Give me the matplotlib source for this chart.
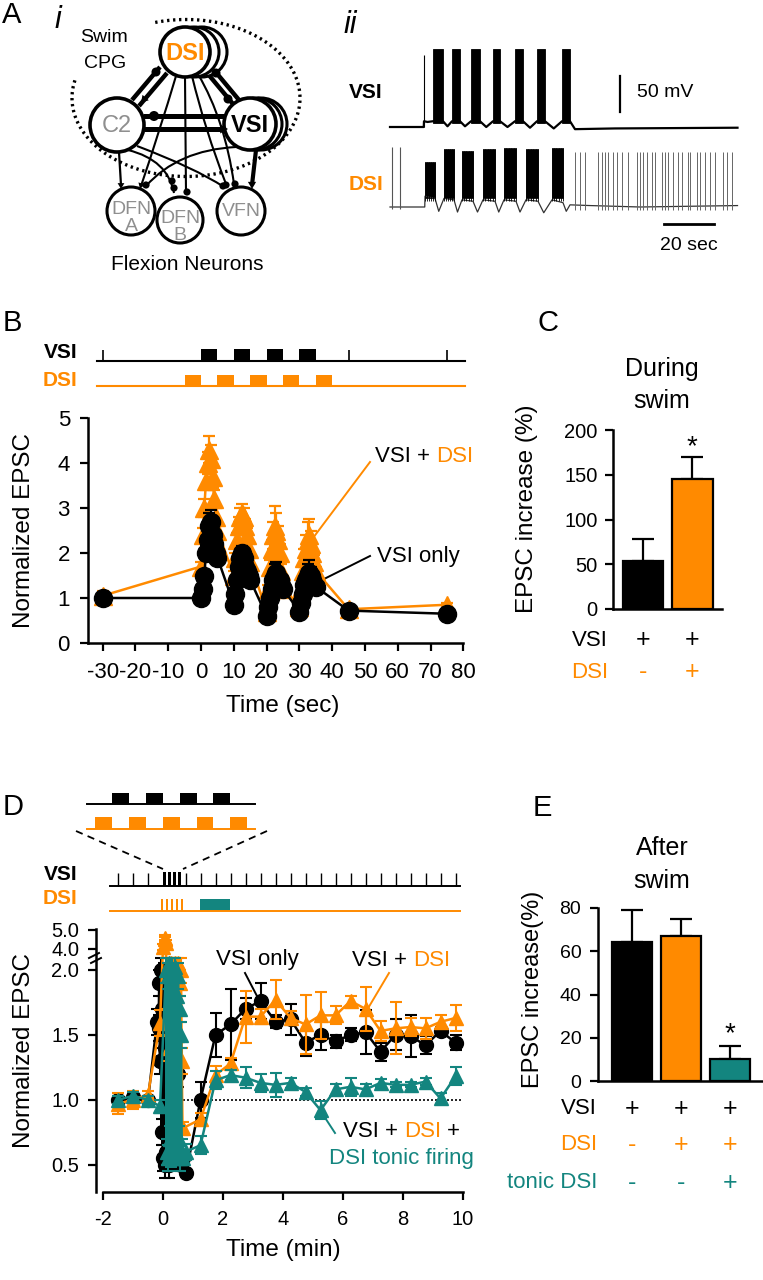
import numpy as np
import matplotlib
matplotlib.use('Agg')
import matplotlib.pyplot as plt
from matplotlib.patches import Circle, Rectangle, Polygon, PathPatch
from matplotlib.path import Path
from matplotlib.transforms import blended_transform_factory as blend

plt.rcParams['font.family'] = ['Liberation Sans', 'DejaVu Sans']
plt.rcParams['axes.linewidth'] = 1.8

ORANGE = '#FF8A00'
TEAL = '#13857F'
GREY = '#8F8F8F'

# ======================= DATA =======================
# ---- A(ii) example recordings (time in s, potential in mV relative to rest)
VSI_FIRST_SPIKE = 13.6
VSI_BURSTS = [(17.2, 21.2), (24.8, 28.0), (32.4, 36.0), (41.2, 44.0),
              (50.0, 53.2), (58.8, 62.0), (68.8, 72.0)]
VSI_SPIKE_TOP = 108
VSI_WAVE_T = [0, 13.5, 13.6, 15, 17.2, 21.2, 23, 24.8, 28, 30, 32.4, 36, 38.5, 41.2,
              44, 47, 50, 53.2, 56, 58.8, 62, 65.5, 68.8, 72, 74, 90, 139]
VSI_WAVE_V = [0, 0, 8, 7, 8, 8, 1, 8, 8, 1, 8, 8, 0, 8,
              8, 0, 8, 8, -1, 8, 8, -2, 8, 8, -3, -2, -1]
DSI_BURSTS = [(14.0, 18.0), (21.6, 25.6), (28.8, 33.2), (37.2, 42.0),
              (45.6, 50.4), (54.4, 59.2), (64.8, 69.2)]
DSI_BURST_TOPS = [62, 80, 78, 80, 82, 80, 82]
DSI_WAVE_T = [0, 13.9, 14.0, 18, 19.5, 21.6, 25.6, 27, 28.8, 33.2, 35, 37.2, 42, 43.5,
              45.6, 50.4, 52, 54.4, 59.2, 61.5, 64.8, 69.2, 70.5, 72, 80, 100, 139]
DSI_WAVE_V = [0, 0, 15, 12, -6, 12, 10, -7, 10, 8, -7, 10, 8, -7,
              10, 8, -7, 10, 8, -8, 10, 6, -6, 3, 2, 0, 2]
DSI_SPIKE_TOP = 83
DSI_PRE_SPIKES = [0.8, 4.0]
DSI_TONIC_SPIKES = [74, 76, 78, 83.3, 84.7, 86, 87.3, 89.3, 90.7, 92.7, 95.3, 98.7, 100,
                    101.3, 102.7, 104.7, 106, 108.7, 110, 111.3, 113.3, 115.3, 116.7,
                    119.3, 120, 122.7, 124, 126, 128, 130, 133.3, 134.7, 136.7]

# ---- B  (time in s)
B_STIM_VSI = [(0, 5), (10, 15), (20, 25), (30, 35)]
B_STIM_DSI = [(-5, 0), (5, 10), (15, 20), (25, 30), (35, 40)]
B_STIM_TICKS = [-30, 45, 75]
B_T = [-30,
       0, 0.5, 1, 1.5, 2, 2.5, 3, 3.5, 4, 4.5, 5,
       10, 10.5, 11, 11.5, 12, 12.5, 13, 13.5, 14, 14.5, 15,
       20, 20.5, 21, 21.5, 22, 22.5, 23, 23.5, 24, 24.5, 25,
       30, 30.5, 31, 31.5, 32, 32.5, 33, 33.5, 34, 34.5, 35,
       45, 75]
B_VSI = [1.0,
         1.0, 1.2, 1.5, 2.0, 2.3, 2.6, 2.7, 2.4, 2.2, 2.0, 1.9,
         0.85, 1.1, 1.4, 1.7, 1.9, 2.0, 1.9, 1.7, 1.6, 1.5, 1.4,
         0.6, 0.8, 1.0, 1.2, 1.4, 1.5, 1.55, 1.45, 1.4, 1.3, 1.2,
         0.7, 0.9, 1.1, 1.3, 1.4, 1.5, 1.55, 1.5, 1.4, 1.3, 1.25,
         0.72, 0.65]
B_VSI_ERR = [0.05,
             0.05, 0.1, 0.1, 0.15, 0.2, 0.3, 0.25, 0.2, 0.15, 0.15, 0.15,
             0.05, 0.1, 0.1, 0.12, 0.15, 0.15, 0.12, 0.1, 0.1, 0.1, 0.1,
             0.05, 0.05, 0.1, 0.1, 0.15, 0.25, 0.25, 0.2, 0.15, 0.1, 0.1,
             0.05, 0.05, 0.1, 0.1, 0.15, 0.25, 0.3, 0.2, 0.15, 0.1, 0.1,
             0.08, 0.05]
B_DSI = [1.05,
         1.7, 2.4, 3.0, 3.6, 4.0, 4.3, 4.1, 3.7, 3.2, 2.8, 2.5,
         1.5, 1.9, 2.3, 2.6, 2.8, 2.9, 2.8, 2.6, 2.4, 2.1, 1.8,
         0.7, 1.2, 1.7, 2.1, 2.4, 2.6, 2.5, 2.3, 2.0, 1.6, 1.2,
         0.8, 1.2, 1.6, 1.9, 2.1, 2.3, 2.4, 2.2, 2.0, 1.8, 1.6,
         0.75, 0.85]
B_DSI_ERR = [0.1,
             0.1, 0.15, 0.2, 0.2, 0.25, 0.3, 0.3, 0.25, 0.2, 0.2, 0.2,
             0.1, 0.1, 0.15, 0.2, 0.2, 0.2, 0.2, 0.15, 0.15, 0.1, 0.1,
             0.1, 0.1, 0.15, 0.2, 0.3, 0.45, 0.4, 0.3, 0.2, 0.15, 0.1,
             0.1, 0.1, 0.15, 0.2, 0.3, 0.4, 0.35, 0.3, 0.2, 0.15, 0.1,
             0.05, 0.05]

# ---- C
C_MEAN = [53.5, 145]
C_ERR = [25, 25]

# ---- D  (time in min)
D_VSI_T = [-1.5, -1.0, -0.5, -0.2, -0.15, -0.125, -0.1, -0.075, -0.05, -0.025, 0.0,
           0.025, 0.05, 0.075, 0.1, 0.15, 0.2, 0.3, 0.4, 0.5, 0.6, 0.65, 0.77,
           1.25, 1.75, 2.25, 2.75, 3.25, 3.75, 4.25, 4.75, 5.25, 5.75, 6.25, 6.75,
           7.25, 7.75, 8.25, 8.75, 9.25, 9.75]
D_VSI = [1.00, 1.02, 1.00, 1.60, 1.55, 1.90, 1.30, 2.00, 0.75, 1.70, 0.55,
         1.95, 0.50, 1.40, 0.60, 1.80, 0.50, 1.50, 0.60, 1.20, 0.50, 0.55, 0.44,
         1.00, 1.50, 1.58, 1.70, 1.76, 1.60, 1.62, 1.44, 1.50, 1.45, 1.50, 1.52,
         1.37, 1.50, 1.49, 1.42, 1.53, 1.44]
D_VSI_ERR = [0.03, 0.03, 0.03, 0.1, 0.1, 0.1, 0.1, 0.1, 0.1, 0.1, 0.1,
             0.1, 0.1, 0.1, 0.1, 0.1, 0.1, 0.1, 0.1, 0.1, 0.05, 0.05, 0.03,
             0.14, 0.17, 0.27, 0.08, 0.14, 0.05, 0.12, 0.1, 0.12, 0.05, 0.05, 0.17,
             0.07, 0.12, 0.16, 0.07, 0.03, 0.06]
D_DSI_T = [-1.5, -1.0, -0.5, -0.1, 0.0, 0.05, 0.075, 0.1, 0.125, 0.15, 0.2, 0.25,
           0.3, 0.35, 0.4, 0.45, 0.5, 0.55, 0.6, 0.625, 0.65,
           1.25, 1.75, 2.25, 2.75, 3.25, 3.75, 4.25, 4.75, 5.25, 5.75,
           6.25, 6.75, 7.25, 7.75, 8.25, 8.75, 9.25, 9.75]
D_DSI = [0.97, 1.00, 1.04, 1.59, 4.1, 4.5, 4.6, 4.3, 1.6, 2.0, 1.4, 2.05,
         1.7, 1.2, 2.05, 1.5, 2.05, 1.9, 2.0, 1.3, 0.78,
         0.85, 1.19, 1.28, 1.64, 1.64, 1.77, 1.63, 1.58, 1.65, 1.65,
         1.76, 1.70, 1.53, 1.55, 1.56, 1.55, 1.60, 1.63]
D_DSI_ERR = [0.08, 0.07, 0.03, 0.1, 0.15, 0.15, 0.15, 0.15, 0.1, 0.1, 0.1, 0.1,
             0.1, 0.1, 0.1, 0.1, 0.1, 0.1, 0.1, 0.1, 0.05,
             0.05, 0.07, 0.04, 0.2, 0.06, 0.15, 0.05, 0.23, 0.18, 0.07,
             0.04, 0.17, 0.08, 0.2, 0.07, 0.08, 0.05, 0.1]
D_TONIC_T = [-1.5, -1.0, -0.5, -0.1, 0.1, 0.125, 0.15, 0.175, 0.2, 0.225, 0.25, 0.275,
             0.3, 0.325, 0.35, 0.375, 0.4, 0.425, 0.45, 0.475, 0.5, 0.525, 0.55,
             0.575, 0.6, 0.625, 0.65, 0.75,
             1.25, 1.75, 2.25, 2.75, 3.25, 3.75, 4.25, 4.75, 5.25, 5.75, 6.25,
             6.75, 7.25, 7.75, 8.25, 8.75, 9.25, 9.75]
D_TONIC = [1.00, 1.03, 1.00, 0.95, 2.00, 0.60, 1.95, 0.55, 2.05, 0.70, 1.90, 0.58,
           2.00, 0.65, 1.85, 0.60, 2.02, 0.75, 1.80, 0.62, 1.95, 0.70, 1.70,
           0.55, 1.50, 0.60, 0.55, 0.60,
           0.65, 1.15, 1.19, 1.17, 1.13, 1.115, 1.13, 1.06, 0.92, 1.08, 1.10,
           1.08, 1.13, 1.115, 1.115, 1.14, 1.01, 1.18]
D_TONIC_ERR = [0.03, 0.03, 0.03, 0.05, 0.1, 0.1, 0.1, 0.1, 0.1, 0.1, 0.1, 0.1,
               0.1, 0.1, 0.1, 0.1, 0.1, 0.1, 0.1, 0.1, 0.1, 0.1, 0.1,
               0.1, 0.1, 0.1, 0.05, 0.06,
               0.07, 0.07, 0.04, 0.08, 0.07, 0.09, 0.04, 0.03, 0.07, 0.04, 0.07,
               0.04, 0.03, 0.02, 0.02, 0.03, 0.04, 0.07]
D_STIM_TICKS = [-1.5, -1.0, -0.5, 0.75, 1.25, 1.75, 2.25, 2.75, 3.25, 3.75, 4.25, 4.75,
                5.25, 5.75, 6.25, 6.75, 7.25, 7.75, 8.25, 8.75, 9.25, 9.75]
D_TONIC_STIM = (1.23, 2.23)

# ---- E
E_MEAN = [64.5, 67, 10]
E_ERR = [14.5, 8, 6]

# ======================= FIGURE =======================
W, H = 763, 1280
fig = plt.figure(figsize=(W / 100, H / 100), dpi=100)


def add_ax(l, t, w, h):
    ax = fig.add_axes([l / W, 1 - (t + h) / H, w / W, h / H])
    ax.patch.set_visible(False)
    return ax


ov = add_ax(0, 0, W, H)
ov.set_xlim(0, W)
ov.set_ylim(H, 0)
ov.axis('off')


def label(x, y, s, size=21, **kw):
    ov.text(x, y, s, fontsize=size, ha='center', va='center', **kw)


# ---------------- A(i) circuit diagram ----------------
def circle(cx, cy, r, lw=2.6, z=5):
    ov.add_patch(Circle((cx, cy), r, fc='white', ec='black', lw=lw, zorder=z))


def ball(x, y, r=4.5, z=6):
    ov.add_patch(Circle((x, y), r, fc='black', ec='black', lw=0, zorder=z))


def tri(x, y, ang, s=5.5, z=6):
    d = np.array([np.cos(ang), np.sin(ang)])
    n = np.array([-d[1], d[0]])
    tip = np.array([x, y])
    base = tip - d * s * 1.3
    ov.add_patch(Polygon([tip, base + n * s * 0.75, base - n * s * 0.75], closed=True,
                         fc='black', ec='black', lw=0, zorder=z))


def seg(p, q, lw, z=3):
    ov.plot([p[0], q[0]], [p[1], q[1]], color='black', lw=lw, solid_capstyle='butt', zorder=z)


def curve(p, c, q, lw, z=3):
    path = Path([p, c, q], [Path.MOVETO, Path.CURVE3, Path.CURVE3])
    ov.add_patch(PathPatch(path, fc='none', ec='black', lw=lw, zorder=z))


# dotted ellipse (swim CPG)
th = np.deg2rad(np.linspace(167, 467, 400))
ov.plot(186 + 114 * np.cos(th), 98 - 78.5 * np.sin(th), color='black', lw=2.4,
        ls=(0, (0.7, 1.1)), zorder=7)

# thick CPG connections
seg((132, 100), (160, 67), 3.2); ball(156, 72)
seg((139, 106), (167, 73), 3.2); tri(141, 103, np.arctan2(33, -28))
seg((203, 68), (233, 104), 3.2); ball(228, 99)
seg((209, 64), (239, 100), 3.2); ball(216, 73)
seg((143, 116), (226, 116), 3.6); ball(154, 116, 5)
seg((144, 129), (222, 129), 3.6); tri(228, 129, 0.0, 6)
# thin connections to flexion neurons
curve((176, 76), (160, 130), (141, 186), 1.5); tri(140, 189, np.arctan2(40, -12), 4.5)
seg((185, 77), (186, 193), 1.5); ball(187, 192, 3.6)
curve((192, 76), (205, 130), (226, 184), 1.5); ball(226, 185, 3.6)
curve((198, 74), (225, 120), (234, 184), 1.5); ball(235, 184, 3.6)
seg((119, 152), (121, 185), 1.6); tri(121, 189, np.pi / 2, 4.5)
curve((128, 150), (168, 160), (174, 193), 1.5); ball(172, 181, 3.6); ball(174, 188, 3.6)
curve((137, 146), (195, 168), (224, 187), 1.5); ball(223, 186, 3.6)
curve((236, 147), (178, 150), (146, 186), 1.5); ball(146, 185, 3.6)
seg((256, 150), (252, 185), 3.0); tri(252, 189, np.pi / 2, 5.5)

# neurons
for cx in (202, 194):
    circle(cx, 52, 25, lw=2.2, z=4.6)
circle(185, 52, 25)
for cx in (261, 256):
    circle(cx, 124, 26, lw=2.2, z=4.6)
circle(250, 124, 26)
circle(117, 125, 27)
circle(131, 211, 24, lw=2.2)
circle(180, 220, 23, lw=2.2)
circle(241, 211, 24, lw=2.2)
ov.text(185, 53, 'DSI', color=ORANGE, weight='bold', fontsize=17, ha='center', va='center', zorder=8)
ov.text(250, 125, 'VSI', color='black', weight='bold', fontsize=17, ha='center', va='center', zorder=8)
ov.text(117, 126, 'C2', color=GREY, fontsize=17, ha='center', va='center', zorder=8)
ov.text(131, 218, 'DFN\nA', color=GREY, fontsize=14, ha='center', va='center', linespacing=0.95, zorder=8)
ov.text(180, 227, 'DFN\nB', color=GREY, fontsize=14, ha='center', va='center', linespacing=0.95, zorder=8)
ov.text(241, 212, 'VFN', color=GREY, fontsize=14, ha='center', va='center', zorder=8)
ov.text(104, 42, 'Swim', fontsize=14, ha='center', va='baseline')
ov.text(105, 68, 'CPG', fontsize=14, ha='center', va='baseline')
ov.text(187, 270, 'Flexion Neurons', fontsize=15, ha='center', va='baseline')

label(12, 15, 'A')
label(58, 20, 'i', size=22, style='italic')
label(350, 25, 'ii', size=22, style='italic')

# ---------------- A(ii) recordings ----------------
axT = add_ax(380, 40, 370, 220)
PX_S, PX_MV = 2.5, 0.72
axT.set_xlim((380 - 390) / PX_S, (750 - 390) / PX_S)
axT.set_ylim(0, 220 / PX_MV)
axT.axis('off')
VSI_OFF = (260 - 127) / PX_MV
DSI_OFF = (260 - 207) / PX_MV
axT.plot(VSI_WAVE_T, np.array(VSI_WAVE_V) + VSI_OFF, color='black', lw=1.6)
axT.vlines(VSI_FIRST_SPIKE, VSI_OFF, VSI_OFF + VSI_SPIKE_TOP - 8, color='black', lw=0.8)
for a, b in VSI_BURSTS:
    axT.add_patch(Rectangle((a, VSI_OFF + 6), b - a, VSI_SPIKE_TOP - 6, fc='black', ec='black', lw=0.6))
axT.plot(DSI_WAVE_T, np.array(DSI_WAVE_V) + DSI_OFF, color='#333333', lw=0.9)
for (a, b), top in zip(DSI_BURSTS, DSI_BURST_TOPS):
    axT.add_patch(Rectangle((a, DSI_OFF + 12), b - a, top - 12, fc='black', ec='black', lw=0.5))
    axT.vlines(np.linspace(a, b, 6), DSI_OFF + 8, DSI_OFF + top, color='black', lw=0.6)
axT.vlines(DSI_PRE_SPIKES, DSI_OFF - 3, DSI_OFF + DSI_SPIKE_TOP, color='#555555', lw=0.8)
axT.vlines(DSI_TONIC_SPIKES, DSI_OFF - 4, DSI_OFF + DSI_SPIKE_TOP - 6, color='#666666', lw=0.7)
# scale bars
axT.plot([92, 92], [205.6, 255.6], color='black', lw=1.6)
axT.text(98.8, 232, '50 mV', fontsize=14, ha='left', va='center')
axT.plot([109.6, 129.6], [50, 50], color='black', lw=2)
axT.text(119.6, 20.8, '20 sec', fontsize=14, ha='center', va='center')
ov.text(366, 93, 'VSI', weight='bold', fontsize=15, ha='center', va='center')
ov.text(366, 184, 'DSI', weight='bold', fontsize=15, ha='center', va='center', color=ORANGE)


def style_axis(ax, size, padx, pady):
    ax.spines['top'].set_visible(False)
    ax.spines['right'].set_visible(False)
    ax.tick_params(direction='out', length=6, width=1.6, labelsize=size)
    ax.tick_params(axis='x', pad=padx)
    ax.tick_params(axis='y', pad=pady)


# ---------------- B ----------------
B_PX = 3.278
B_XL = (-30 - (102.7 - 88) / B_PX, -30 + (470 - 102.7) / B_PX)
axB = add_ax(88, 418, 382, 225)
axB.set_xlim(*B_XL)
axB.set_ylim(0, 5)
style_axis(axB, 16, 8, 7)
axB.spines['bottom'].set_bounds(B_XL[0], 80)
axB.set_xticks(range(-30, 81, 10))
axB.set_xticklabels([str(v) for v in range(-30, 81, 10)])
axB.set_yticks(range(0, 6))
axB.errorbar(B_T, B_DSI, yerr=B_DSI_ERR, color=ORANGE, marker='^', ms=13, lw=1.8,
             elinewidth=1.6, capsize=4, capthick=1.6, clip_on=False, zorder=3)
axB.errorbar(B_T, B_VSI, yerr=B_VSI_ERR, color='black', marker='o', ms=13, lw=1.8,
             elinewidth=1.6, capsize=4, capthick=1.6, clip_on=False, zorder=4)
ov.text(283, 706, 'Time (sec)', fontsize=17.5, ha='center', va='center')
ov.text(24, 530, 'Normalized EPSC', fontsize=17.5, ha='center', va='center', rotation=90)
ov.text(375, 462, 'VSI +', fontsize=16, ha='left', va='baseline')
ov.text(473, 462, 'DSI', fontsize=16, ha='right', va='baseline', color=ORANGE)
ov.plot([370, 313], [462, 538], color=ORANGE, lw=1.4)
ov.text(377, 562, 'VSI only', fontsize=16, ha='left', va='baseline')
ov.plot([370, 322], [556, 580], color='black', lw=1.4)
label(12, 323, 'B')

# B stimulation timeline
axBt = add_ax(88, 335, 382, 60)
axBt.set_xlim(*B_XL)
axBt.set_ylim(395, 335)
axBt.axis('off')
axBt.plot([-31.8, 80.5], [361, 361], color='black', lw=1.5)
axBt.vlines(B_STIM_TICKS, 350, 361, color='black', lw=1.2)
for a, b in B_STIM_VSI:
    axBt.add_patch(Rectangle((a, 349), b - a, 12, fc='black', ec='none'))
axBt.plot([-31.8, 80.5], [386, 386], color=ORANGE, lw=1.5)
for a, b in B_STIM_DSI:
    axBt.add_patch(Rectangle((a, 375), b - a, 11, fc=ORANGE, ec='none'))
ov.text(77, 353, 'VSI', weight='bold', fontsize=15, ha='right', va='center')
ov.text(77, 381, 'DSI', weight='bold', fontsize=15, ha='right', va='center', color=ORANGE)

# ---------------- C ----------------
axC = add_ax(613, 430, 109, 179)
axC.set_xlim(-0.606, 1.596)
axC.set_ylim(0, 200)
style_axis(axC, 14.5, 5, 5)
axC.set_xticks([])
axC.set_yticks([0, 50, 100, 150, 200])
axC.bar([0, 1], C_MEAN, width=0.81, color=['black', ORANGE], edgecolor='black', lw=1.6, zorder=3)
axC.errorbar([0, 1], C_MEAN, yerr=[[0, 0], C_ERR], fmt='none', ecolor='black',
             elinewidth=1.6, capsize=8, capthick=1.6, zorder=2)
trC = blend(axC.transData, ov.transData)
for i, (s1, s2) in enumerate([('+', '-'), ('+', '+')]):
    axC.text(i, 640, s1, transform=trC, fontsize=18, ha='center', va='center', color='black')
    axC.text(i, 672, s2, transform=trC, fontsize=18, ha='center', va='center', color=ORANGE)
ov.text(608, 640, 'VSI', fontsize=16, ha='right', va='center')
ov.text(608, 673, 'DSI', fontsize=16, ha='right', va='center', color=ORANGE)
ov.text(692, 447, '*', fontsize=20, ha='center', va='center')
ov.text(662, 376, 'During', fontsize=18, ha='center', va='baseline')
ov.text(662, 408, 'swim', fontsize=18, ha='center', va='baseline')
ov.text(527, 509, 'EPSC increase (%)', fontsize=17.5, ha='center', va='center', rotation=90)
label(548, 323, 'C')

# ---------------- D ----------------
D_LO, D_HI, D_HI_F, D_MID_K, D_UP_K = 2.09, 3.7, 2.1177, 0.0172, 0.146


def d_fwd(y):
    y = np.asarray(y, float)
    return np.where(y <= D_LO, y,
                    np.where(y <= D_HI, D_LO + (y - D_LO) * D_MID_K, D_HI_F + (y - D_HI) * D_UP_K))


def d_inv(f):
    f = np.asarray(f, float)
    return np.where(f <= D_LO, f,
                    np.where(f <= D_HI_F, D_LO + (f - D_LO) / D_MID_K, D_HI + (f - D_HI_F) / D_UP_K))


D_XL = (-2 - 7 / 30, 10.1)
axD = add_ax(96, 929, 370, 263)
axD.set_yscale('function', functions=(d_fwd, d_inv))
axD.set_xlim(*D_XL)
axD.set_ylim(0.29, 5.05)
style_axis(axD, 14.5, 7, 6)
axD.spines['bottom'].set_bounds(-2, 10)
axD.set_xticks([-2, 0, 2, 4, 6, 8, 10])
axD.set_xticklabels(['-2', '0', '2', '4', '6', '8', '10'])
axD.set_yticks([0.5, 1.0, 1.5, 2.0, 4.0, 5.0])
axD.set_yticklabels(['0.5', '1.0', '1.5', '2.0', '4.0', '5.0'])
axD.yaxis.set_minor_locator(matplotlib.ticker.NullLocator())
axD.plot([-1.6, 10.0], [1, 1], ls=(0, (1.2, 1.2)), color='black', lw=1.2, zorder=1)
ekw = dict(ms=10, lw=1.8, elinewidth=1.5, capsize=4, capthick=1.5, clip_on=False)
axD.errorbar(D_VSI_T, D_VSI, yerr=D_VSI_ERR, color='black', marker='o', zorder=3, **ekw)
axD.errorbar(D_DSI_T, D_DSI, yerr=D_DSI_ERR, color=ORANGE, marker='^', zorder=4, **ekw)
axD.errorbar(D_TONIC_T, D_TONIC, yerr=D_TONIC_ERR, color=TEAL, marker='^', zorder=5, **ekw)
# axis break marks
ov.add_patch(Rectangle((91, 955), 10, 6, fc='white', ec='none', zorder=10))
ov.plot([89, 99], [958, 953], color='black', lw=1.4, zorder=11)
ov.plot([91, 101], [963, 958], color='black', lw=1.4, zorder=11)
ov.text(283, 1250, 'Time (min)', fontsize=17.5, ha='center', va='center')
ov.text(24, 1050, 'Normalized EPSC', fontsize=17.5, ha='center', va='center', rotation=90)
ov.text(257, 965, 'VSI only', fontsize=16, ha='center', va='baseline')
ov.plot([245, 258], [973, 998], color='black', lw=1.4)
ov.text(352, 966, 'VSI +', fontsize=16, ha='left', va='baseline')
ov.text(450, 966, 'DSI', fontsize=16, ha='right', va='baseline', color=ORANGE)
ov.plot([389, 367], [973, 1010], color=ORANGE, lw=1.4)
ov.text(343, 1137, 'VSI +', fontsize=16, ha='left', va='baseline')
ov.text(441, 1137, 'DSI', fontsize=16, ha='right', va='baseline', color=ORANGE)
ov.text(460, 1137, '+', fontsize=16, ha='right', va='baseline')
ov.text(401, 1164, 'DSI tonic firing', fontsize=16, ha='center', va='baseline', color=TEAL)
ov.plot([335, 320], [1133, 1110], color=TEAL, lw=1.4)
label(13, 807, 'D')

# D stimulation timeline
axDt = add_ax(96, 860, 370, 60)
axDt.set_xlim(*D_XL)
axDt.set_ylim(920, 860)
axDt.axis('off')
axDt.plot([-1.77, 9.9], [886, 886], color='black', lw=1.4)
axDt.vlines(D_STIM_TICKS, 873, 886, color='black', lw=1.0)
for a, b in B_STIM_VSI:
    axDt.add_patch(Rectangle((a / 60, 872), (b - a) / 60, 14, fc='black', ec='none'))
axDt.plot([-1.77, 9.9], [911, 911], color=ORANGE, lw=1.4)
for a, b in B_STIM_DSI:
    axDt.add_patch(Rectangle((a / 60, 899), (b - a) / 60, 12, fc=ORANGE, ec='none'))
axDt.add_patch(Rectangle((D_TONIC_STIM[0], 899), D_TONIC_STIM[1] - D_TONIC_STIM[0], 12,
                         fc=TEAL, ec='none'))
ov.text(77, 875, 'VSI', weight='bold', fontsize=15, ha='right', va='center')
ov.text(77, 899, 'DSI', weight='bold', fontsize=15, ha='right', va='center', color=ORANGE)

# zoomed inset of the swim stimulation
axI = add_ax(70, 785, 200, 50)
IN_PX = 3.38
axI.set_xlim((70 - 112) / IN_PX, (270 - 112) / IN_PX)
axI.set_ylim(835, 785)
axI.axis('off')
axI.plot([(87 - 112) / IN_PX, (255 - 112) / IN_PX], [804, 804], color='black', lw=1.4)
for a, b in B_STIM_VSI:
    axI.add_patch(Rectangle((a, 793), b - a, 11, fc='black', ec='none'))
axI.plot([(87 - 112) / IN_PX, (255 - 112) / IN_PX], [829, 829], color=ORANGE, lw=1.4)
for a, b in B_STIM_DSI:
    axI.add_patch(Rectangle((a, 817), b - a, 12, fc=ORANGE, ec='none'))
ov.plot([76, 163], [831, 869], ls=(0, (4, 3)), color='black', lw=1.3)
ov.plot([267, 183], [831, 869], ls=(0, (4, 3)), color='black', lw=1.3)

# ---------------- E ----------------
axE = add_ax(598, 908, 165, 173)
axE.set_xlim(-0.69, 2.67)
axE.set_ylim(0, 80)
style_axis(axE, 14, 5, 6)
axE.set_xticks([])
axE.set_yticks([0, 20, 40, 60, 80])
axE.bar([0, 1, 2], E_MEAN, width=0.8, color=['black', ORANGE, TEAL], edgecolor='black', lw=1.6, zorder=3)
axE.errorbar([0, 1, 2], E_MEAN, yerr=[[0, 0, 0], E_ERR], fmt='none', ecolor='black',
             elinewidth=1.6, capsize=8, capthick=1.6, zorder=2)
trE = blend(axE.transData, ov.transData)
E_ROWS = [(['+', '+', '+'], 'black', 1109), (['-', '+', '+'], ORANGE, 1145), (['-', '-', '+'], TEAL, 1183)]
for signs, col, yy in E_ROWS:
    for i, s in enumerate(signs):
        axE.text(i, yy, s, transform=trE, fontsize=18, ha='center', va='center', color=col)
ov.text(597, 1109, 'VSI', fontsize=16, ha='right', va='center')
ov.text(597, 1145, 'DSI', fontsize=16, ha='right', va='center', color=ORANGE)
ov.text(597, 1183, 'tonic DSI', fontsize=16, ha='right', va='center', color=TEAL)
ov.text(730, 1034, '*', fontsize=20, ha='center', va='center')
ov.text(662, 855, 'After', fontsize=18, ha='center', va='baseline')
ov.text(662, 888, 'swim', fontsize=18, ha='center', va='baseline')
ov.text(533, 989, 'EPSC increase(%)', fontsize=17, ha='center', va='center', rotation=90)
label(542, 808, 'E')

fig.savefig('out.png', dpi=100)
